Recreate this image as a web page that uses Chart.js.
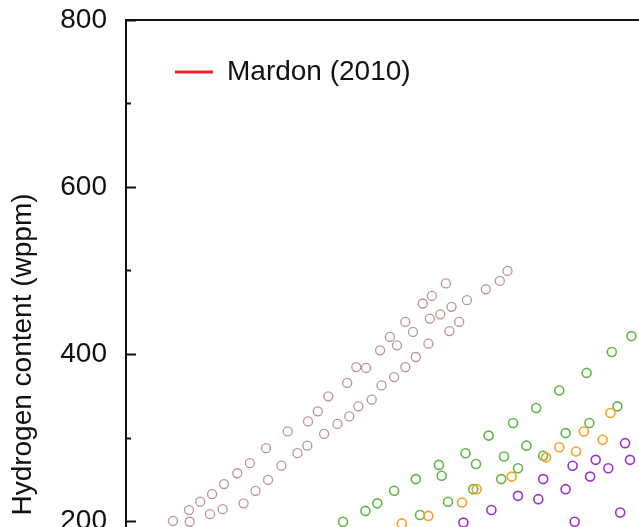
<!DOCTYPE html>
<html>
<head>
<meta charset="utf-8">
<script src="https://cdn.jsdelivr.net/npm/chart.js@4.4.1/dist/chart.umd.min.js"></script>
<style>
  body { margin: 0; background: #fff; }
  #frame { width: 639px; height: 527px; overflow: hidden; }
</style>
</head>
<body>
<div id="frame"><canvas id="hChart" width="846" height="720"></canvas></div>
<script>
// [x, hydrogen content in wppm] (x in arbitrary units, axis is out of frame)
const brownUpper = [[9.0,214],[10.6,224],[12.3,233],[14.0,245],[15.9,258],[17.7,270],[20.0,288],[23.1,308],[26.0,320],
  [27.4,332],[28.9,350],[31.6,366],[32.9,385],[34.3,384],[36.3,405],[37.7,421],[38.7,411],[39.9,439],[41.0,427],
  [42.4,461],[43.7,470],[45.7,485]];
const brownLower = [[6.7,201],[9.1,200],[12.0,209],[13.8,215],[16.8,222],[18.5,237],[20.3,250],[22.2,267],[24.5,282],
  [25.9,291],[28.3,305],[30.2,317],[31.9,326],[33.2,338],[35.1,346],[36.5,363],[38.3,373],[39.9,385],[41.4,397],
  [43.2,413],[43.4,443],[44.9,448],[46.2,428],[46.5,457],[47.6,439],[48.7,465],[51.4,478],[53.4,488],[54.5,500]];
const greenUpper = [[31.0,200],[34.2,213],[35.9,222],[38.3,237],[41.4,251],[44.7,268],[48.5,282],[51.8,303],[55.3,318],
  [58.6,336],[61.9,357],[65.8,378],[69.4,403],[72.2,422]];
const greenLower = [[42.0,208],[46.0,224],[45.1,255],[49.6,239],[50.0,269],[53.6,251],[54.0,278],[56.0,264],[57.2,291],
  [59.6,279],[62.8,306],[66.2,318],[70.2,338]];
const orangePts = [[39.4,198],[43.2,207],[48.0,223],[50.1,239],[55.1,254],[60.0,277],[61.9,289],[64.3,284],[65.4,308],
  [68.1,298],[69.2,330]];
const purplePts = [[48.2,199],[52.2,214],[56.0,231],[58.9,227],[59.6,251],[62.8,239],[63.8,267],[64.1,200],[66.3,254],
  [67.1,274],[68.9,264],[70.6,211],[71.3,294],[72.0,274]];
const mardon = []; // curve lies outside the visible part of the figure

const yMin = 0, yMax = 800, xMin = 0, xMax = 100;

Chart.defaults.font.family = "'Liberation Sans', Arial, sans-serif";
Chart.defaults.font.size = 28;
Chart.defaults.color = '#111';

const toXY = arr => arr.map(p => ({ x: p[0], y: p[1] }));

function circles(label, pts, color, width) {
  return {
    type: 'scatter',
    label: label,
    data: toXY(pts),
    pointStyle: 'circle',
    pointRadius: 4.5,
    pointBorderWidth: width,
    pointBorderColor: color,
    pointBackgroundColor: 'rgba(0,0,0,0)',
    borderColor: color
  };
}

// puts the legend at its place inside the plot box
const legendPlace = {
  id: 'legendPlace',
  afterLayout(chart) {
    const lg = chart.legend, ca = chart.chartArea;
    const w = lg.width, h = lg.height;
    lg.left = ca.left + 39;
    lg.top = ca.top + 28;
    lg.right = lg.left + w + 40;
    lg.bottom = lg.top + h + 10;
  }
};

const ctx = document.getElementById('hChart').getContext('2d');
const hChart = new Chart(ctx, {
  data: {
    datasets: [
      {
        type: 'line',
        label: 'Mardon (2010)',
        data: mardon,
        borderColor: '#e8232a',
        borderWidth: 3,
        pointBorderColor: '#e8232a',
        pointBorderWidth: 3,
        pointRadius: 0
      },
      circles('purple', purplePts, '#9a32cd', 1.6),
      circles('orange', orangePts, '#f2a22e', 1.6),
      circles('green-1', greenUpper, '#62b54a', 1.6),
      circles('green-2', greenLower, '#62b54a', 1.6),
      circles('brown-1', brownUpper, '#b99494', 1.3),
      circles('brown-2', brownLower, '#b99494', 1.3)
    ]
  },
  options: {
    responsive: false,
    animation: false,
    devicePixelRatio: 1,
    layout: { padding: { left: 6, top: 20, right: 20, bottom: 31 } },
    plugins: {
      tooltip: { enabled: false },
      legend: {
        position: 'chartArea',
        align: 'start',
        labels: {
          usePointStyle: true,
          pointStyle: 'line',
          pointStyleWidth: 38,
          padding: 10,
          color: '#111',
          font: { size: 28 },
          filter: item => item.text === 'Mardon (2010)'
        }
      }
    },
    scales: {
      x: {
        type: 'linear',
        min: xMin,
        max: xMax,
        display: false
      },
      x2: {
        type: 'linear',
        position: 'top',
        min: xMin,
        max: xMax,
        grid: { display: false, drawTicks: false },
        ticks: { display: false },
        border: { display: true, color: '#111', width: 2 }
      },
      y: {
        type: 'linear',
        min: yMin,
        max: yMax,
        afterFit(scale) {
          scale.width = 120;
          scale.paddingTop = 0;
          scale.paddingBottom = 0;
        },
        title: {
          display: true,
          text: 'Hydrogen content (wppm)',
          color: '#111',
          font: { size: 28 },
          padding: { top: 0, bottom: 0 }
        },
        ticks: {
          stepSize: 100,
          autoSkip: false,
          padding: 29,
          color: '#111',
          callback: v => (v % 200 === 0 ? v : '')
        },
        grid: {
          drawOnChartArea: false,
          drawTicks: true,
          tickLength: -10,
          tickWidth: 2,
          tickColor: '#111',
          tickBorderDash: c => (c.tick && c.tick.value % 200 !== 0 ? [0, 5, 20, 0] : [])
        },
        border: { display: true, color: '#111', width: 2 }
      }
    }
  },
  plugins: [legendPlace]
});
</script>
</body>
</html>
